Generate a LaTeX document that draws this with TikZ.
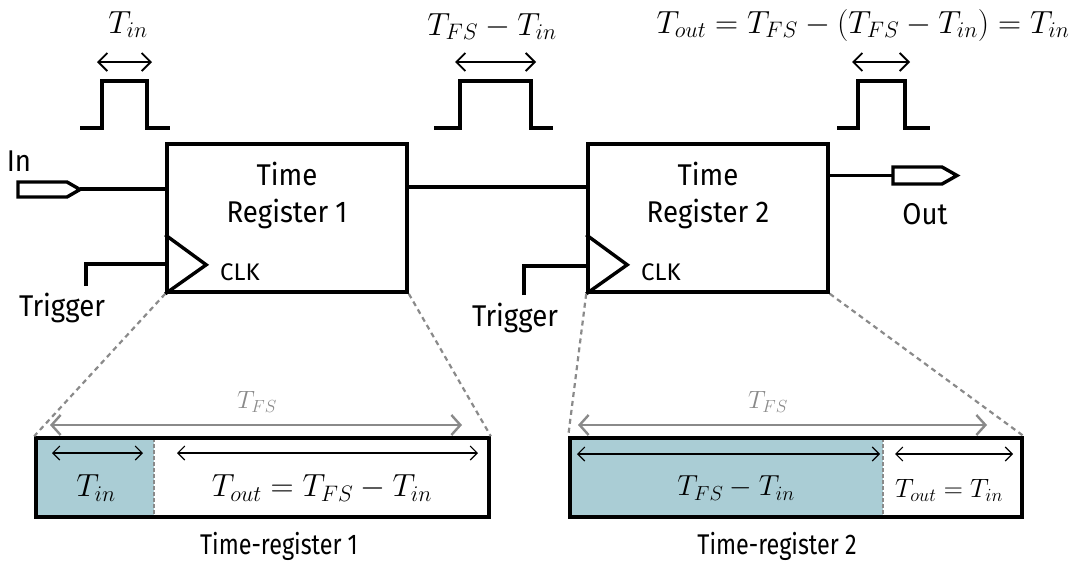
\RequirePackage{fix-cm}
\documentclass[tikz,border=0pt]{standalone}
\usepackage{fontspec}
\setmainfont[FakeStretch=0.82]{Fira Sans}
\newfontfamily\titlefont[FakeStretch=0.92]{Fira Sans}
\newfontfamily\clkfont{Fira Sans}
\usetikzlibrary{arrows.meta}
\definecolor{regfill}{HTML}{AACDD5}
\definecolor{dashgray}{HTML}{8A8A8A}
\begin{document}
\begin{tikzpicture}[x=1pt,y=-1pt,
  wire/.style={line width=3.4pt},
  regbox/.style={draw,line width=3.6pt,minimum width=240pt,minimum height=148pt,inner sep=0pt},
  pin/.style={line width=3.4pt,line join=miter},
  pulse/.style={line width=4pt},
  topdim/.style={line width=1.8pt,{Straight Barb[length=9pt,width=18pt]}-{Straight Barb[length=9pt,width=18pt]}},
  bardim/.style={line width=1.1pt,{Straight Barb[length=7pt,width=14pt]}-{Straight Barb[length=7pt,width=14pt]}},
  fsdim/.style={line width=2.4pt,dashgray,{Straight Barb[length=9pt,width=20pt]}-{Straight Barb[length=9pt,width=20pt]}},
  zoomline/.style={dashgray,line width=2.2pt,dash pattern=on 5pt off 4pt},
  divider/.style={dashgray,line width=1.6pt,dash pattern=on 4pt off 2pt},
  bigtext/.style={font=\titlefont\fontsize{30}{37}\selectfont,inner sep=0pt,align=center},
  captext/.style={font=\fontsize{28.5}{30}\selectfont,inner sep=0pt},
  smalltext/.style={font=\clkfont\fontsize{24}{24}\selectfont,inner sep=0pt},
  topmath/.style={font=\fontsize{32}{32}\selectfont,inner sep=0pt,anchor=base},
  barmath/.style={font=\fontsize{32}{32}\selectfont,inner sep=0pt},
  midmath/.style={font=\fontsize{29}{29}\selectfont,inner sep=0pt},
  fsmath/.style={font=\fontsize{25}{25}\selectfont,inner sep=0pt,text=dashgray},
  barbox/.style={draw,line width=3.6pt}
]
\useasboundingbox (0,0) rectangle (1081,568);

% registers
\node[regbox] (r1) at (287,218) {};
\node[regbox] (r2) at (708,218) {};
\node[bigtext] (t1) at (287,195) {Time\\Register 1};
\node[bigtext] (t2) at (708,195) {Time\\Register 2};

% clock triangles
\draw[wire,line join=miter] (r1.south west) ++(0,-59) -- ++(41,30) -- (r1.south west);
\draw[wire,line join=miter] (r2.south west) ++(0,-59) -- ++(41,30) -- (r2.south west);
\node[smalltext] (clk1) at (240,272) {CLK};
\node[smalltext] (clk2) at (661,272) {CLK};

% triggers
\coordinate (trg1) at (86,286);
\coordinate (trg1c) at (167,264);
\draw[wire] (trg1) |- (trg1c);
\node[bigtext] (trig1) at (62,308) {Trigger};
\coordinate (trg2) at (524,295);
\coordinate (trg2c) at (588,266);
\draw[wire] (trg2) |- (trg2c);
\node[bigtext] (trig2) at (515,318) {Trigger};

% input pin
\draw[pin] (18,182) -- (67,182) -- (80,189.5) -- (67,197) -- (18,197) -- cycle;
\coordinate (inpin) at (80,189);
\coordinate (r1in) at (167,189);
\draw[wire] (inpin) -- (r1in);
\node[bigtext] (inlab) at (19,161) {In};

% link between registers
\coordinate (r1out) at (407,187);
\coordinate (r2in) at (588,187);
\draw[wire] (r1out) -- (r2in);

% output pin
\coordinate (r2out) at (828,175.5);
\coordinate (outpin) at (893,175.5);
\draw[wire] (r2out) -- (outpin);
\draw[pin] (893,167) -- (942,167) -- (957,175.5) -- (942,184) -- (893,184) -- cycle;
\node[bigtext] (outlab) at (925,214) {Out};

% pulses
\draw[pulse] (80,128) -- (102,128) -- (102,81) -- (147,81) -- (147,128) -- (170,128);
\coordinate (a1l) at (97,62); \coordinate (a1r) at (152,62);
\draw[topdim] (a1l) -- (a1r);
\node[topmath] (m1) at (128,33) {$T_{in}$};

\draw[pulse] (434,128) -- (460,128) -- (460,81) -- (531,81) -- (531,128) -- (553,128);
\coordinate (a2l) at (455,62); \coordinate (a2r) at (536,62);
\draw[topdim] (a2l) -- (a2r);
\node[topmath] (m2) at (492,35) {$T_{FS}-T_{in}$};

\draw[pulse] (837,128) -- (858,128) -- (858,81) -- (905,81) -- (905,128) -- (930,128);
\coordinate (a3l) at (852,62); \coordinate (a3r) at (910,62);
\draw[topdim] (a3l) -- (a3r);
\node[topmath] (m3) at (863,33) {$T_{out}=T_{FS}-(T_{FS}-T_{in})=T_{in}$};

% bar 1
\fill[regfill] (36,438) rectangle (154,517);
\draw[divider] (154,438) -- (154,517);
\node[barbox,minimum width=453pt,minimum height=79pt,inner sep=0pt] (b1) at (262.5,477.5) {};
\draw[zoomline] (r1.south west) -- (b1.north west);
\draw[zoomline] (r1.south east) -- (b1.north east);
\coordinate (f1l) at (50,425); \coordinate (f1r) at (462,425);
\draw[fsdim] (f1l) -- (f1r);
\node[fsmath] (fs1) at (257,402) {$T_{FS}$};
\coordinate (i1a) at (52,453); \coordinate (i1b) at (143,453);
\draw[bardim] (i1a) -- (i1b);
\coordinate (i1c) at (177,453); \coordinate (i1d) at (478,453);
\draw[bardim] (i1c) -- (i1d);
\node[barmath] (b1a) at (96,488) {$T_{in}$};
\node[barmath] (b1b) at (322,488) {$T_{out}=T_{FS}-T_{in}$};
\node[captext] (cap1) at (279,546) {Time-register 1};

% bar 2
\fill[regfill] (570,438) rectangle (883,517);
\draw[divider] (883,438) -- (883,517);
\node[barbox,minimum width=452pt,minimum height=79pt,inner sep=0pt] (b2) at (796,477.5) {};
\draw[zoomline] (r2.south west) -- (b2.north west);
\draw[zoomline] (r2.south east) -- (b2.north east);
\coordinate (f2l) at (578,425); \coordinate (f2r) at (987,425);
\draw[fsdim] (f2l) -- (f2r);
\node[fsmath] (fs2) at (768,402) {$T_{FS}$};
\coordinate (i2a) at (577,454); \coordinate (i2b) at (880,454);
\draw[bardim] (i2a) -- (i2b);
\coordinate (i2c) at (895,454); \coordinate (i2d) at (1013,454);
\draw[bardim] (i2c) -- (i2d);
\node[midmath] (b2a) at (736,488) {$T_{FS}-T_{in}$};
\node[fsmath,text=black,font=\fontsize{26.5}{26.5}\selectfont] (b2b) at (949,490) {$T_{out}=T_{in}$};
\node[captext] (cap2) at (777,546) {Time-register 2};
\end{tikzpicture}
\end{document}
